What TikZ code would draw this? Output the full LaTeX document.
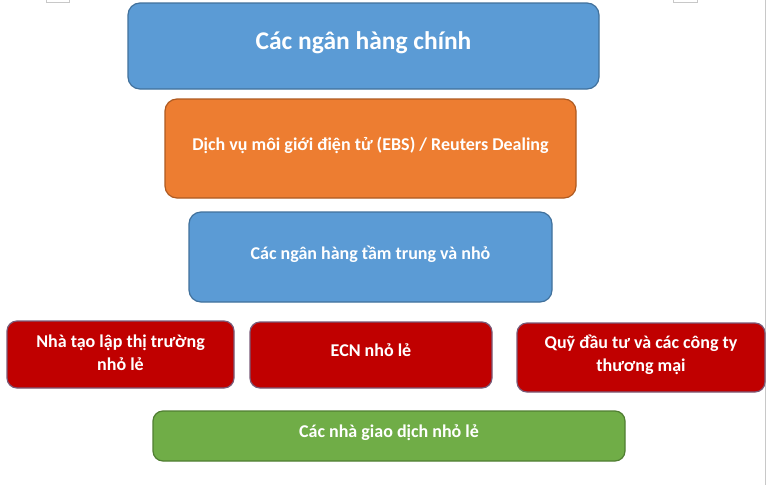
\documentclass[tikz,border=0pt]{standalone}
\usepackage{fontspec}
\setmainfont{Carlito}
\definecolor{bluefill}{HTML}{5B9BD5}
\definecolor{blueline}{HTML}{41719C}
\definecolor{orangefill}{HTML}{ED7D31}
\definecolor{orangeline}{HTML}{AE5A21}
\definecolor{redfill}{HTML}{C00000}
\definecolor{redline}{HTML}{7A5A78}
\definecolor{greenfill}{HTML}{70AD47}
\definecolor{greenline}{HTML}{507E32}
\definecolor{edgegray}{HTML}{C8C8C8}
\begin{document}
\begin{tikzpicture}[x=1pt,y=-1pt,
  box/.style={rounded corners=12pt, line width=1.2pt, text=white, font=\bfseries\fontsize{18}{23}\selectfont, align=center, inner sep=0pt, text depth=9.5pt},
  bluebox/.style={box, fill=bluefill, draw=blueline},
  orangebox/.style={box, fill=orangefill, draw=orangeline},
  redbox/.style={box, fill=redfill, draw=redline, rounded corners=10pt},
  greenbox/.style={box, fill=greenfill, draw=greenline, rounded corners=10pt},
  artifact/.style={draw=edgegray, line width=0.8pt}]
\useasboundingbox (0,0) rectangle (768,485);
\fill[white] (0,0) rectangle (768,485);
% screenshot artifacts
\draw[artifact] (46,0) -- (46,2.5) -- (69,2.5) -- (69,0);
\draw[artifact] (673,0) -- (673,2.5) -- (697,2.5) -- (697,0);
\draw[artifact] (765.5,0) -- (765.5,485);
% boxes
\node[bluebox, minimum width=471pt, minimum height=86pt, font=\bfseries\fontsize{25.5}{30}\selectfont, text depth=11pt] (major) at (363.5,46) {Các ngân hàng chính};
\node[orangebox, minimum width=411pt, minimum height=99pt] (ebs) at (370.5,148.5) {Dịch vụ môi giới điện tử (EBS) / Reuters Dealing};
\node[bluebox, minimum width=363pt, minimum height=90pt] (mid) at (370.5,257) {Các ngân hàng tầm trung và nhỏ};
\node[redbox, minimum width=227pt, minimum height=67pt, text depth=4.5pt] (mm) at (120.5,354.5) {Nhà tạo lập thị trường\\nhỏ lẻ};
\node[redbox, minimum width=242pt, minimum height=66pt] (ecn) at (371,355) {ECN nhỏ lẻ};
\node[redbox, minimum width=248pt, minimum height=69pt, text depth=8pt] (funds) at (641,357.5) {Quỹ đầu tư và các công ty\\thương mại};
\node[greenbox, minimum width=472pt, minimum height=50pt] (retail) at (389,436) {Các nhà giao dịch nhỏ lẻ};
\end{tikzpicture}
\end{document}
